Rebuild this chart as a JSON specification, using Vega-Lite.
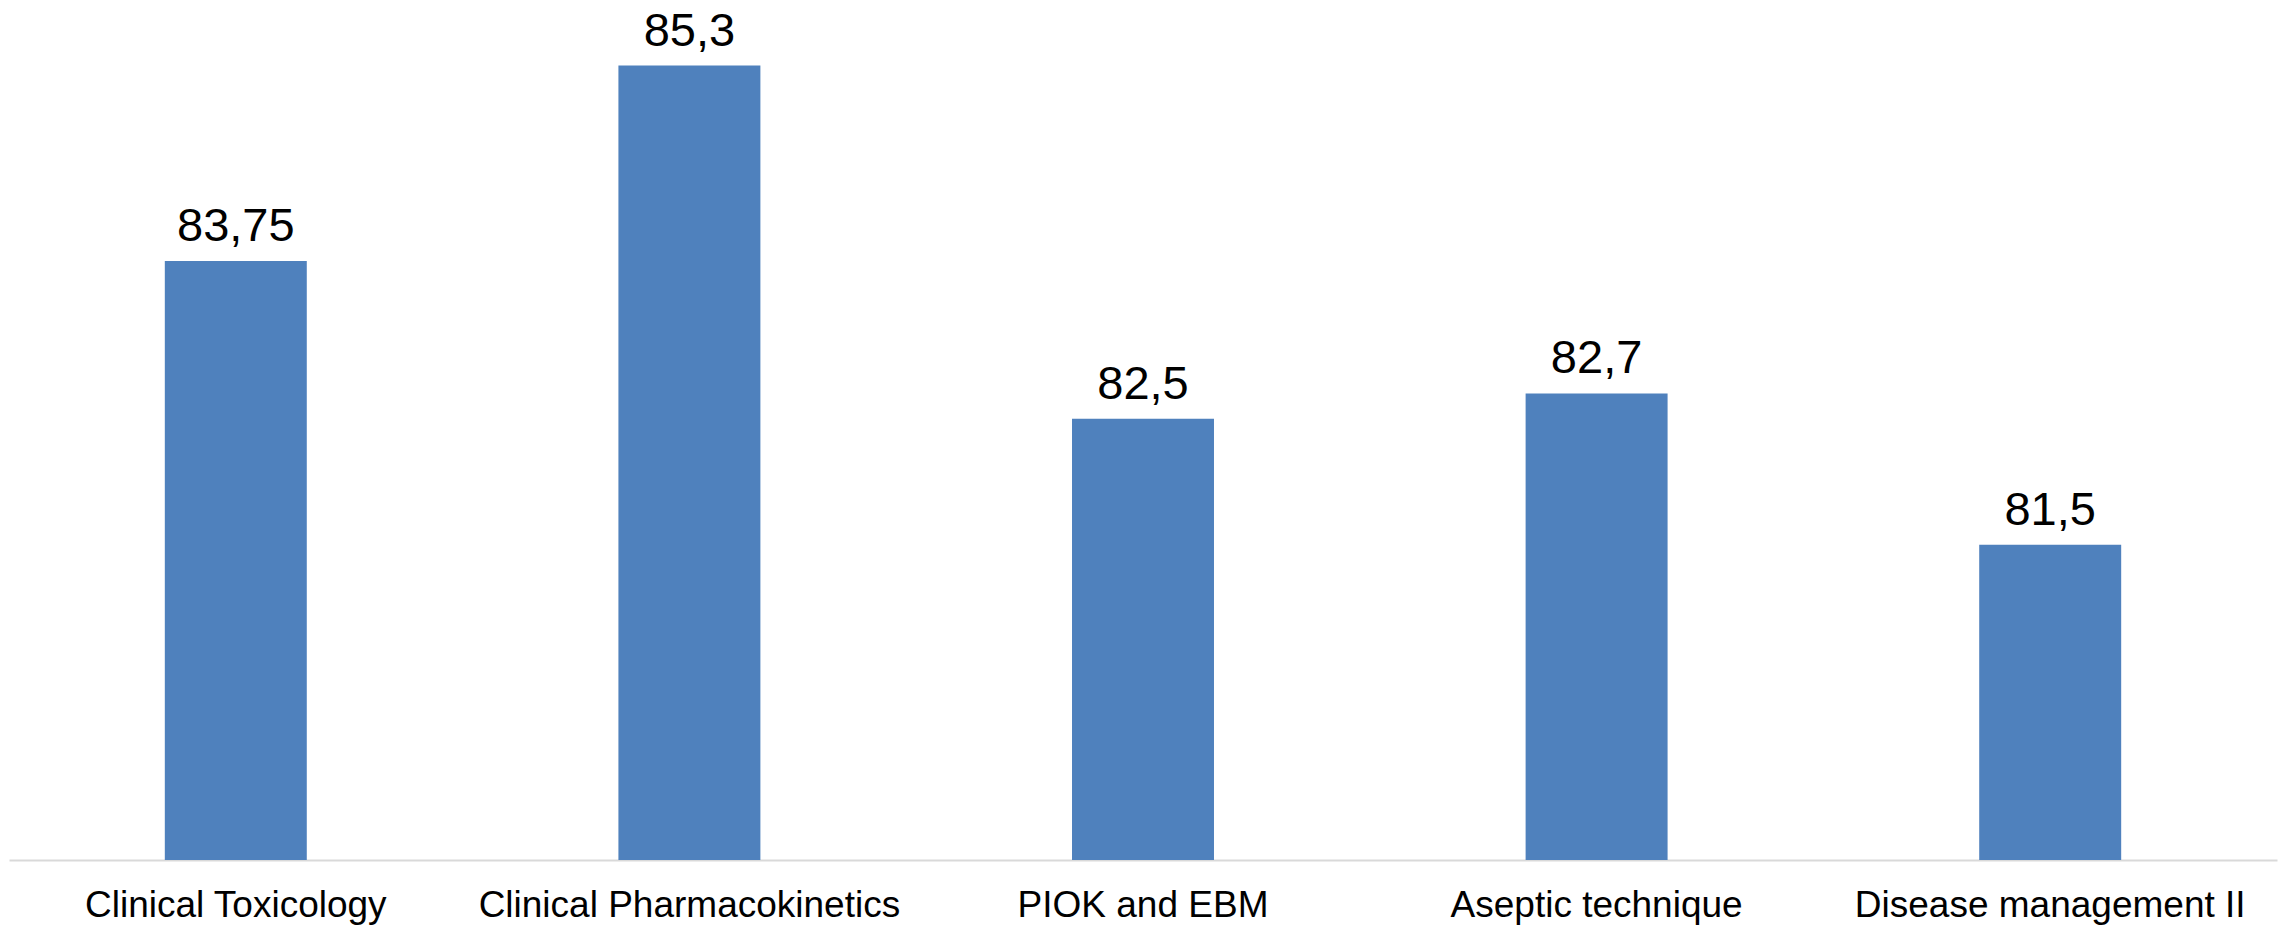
{
  "$schema": "https://vega.github.io/schema/vega-lite/v6.json",
  "autosize": {"type": "none"},
  "padding": {"left": 9, "top": 0, "right": 8, "bottom": 67},
  "width": 2268,
  "height": 860,
  "background": "white",
  "config": {"view": {"stroke": null}, "font": "Liberation Sans"},
  "data": {"values": [
    {"course": "Clinical Toxicology", "score": 83.75, "label": "83,75"},
    {"course": "Clinical Pharmacokinetics", "score": 85.3, "label": "85,3"},
    {"course": "PIOK and EBM", "score": 82.5, "label": "82,5"},
    {"course": "Aseptic technique", "score": 82.7, "label": "82,7"},
    {"course": "Disease management II", "score": 81.5, "label": "81,5"}
  ]},
  "encoding": {
    "x": {"field": "course", "type": "nominal", "sort": null,
      "scale": {"paddingInner": 0.687, "paddingOuter": 0.3435},
      "axis": {"title": null, "labelAngle": 0, "ticks": false, "labelFontSize": 37, "labelColor": "#000000", "labelFont": "Liberation Sans", "labelBaseline": "alphabetic", "labelPadding": 56, "domainColor": "#D9D9D9", "domainWidth": 2, "grid": false, "labelLimit": 0}},
    "y": {"field": "score", "type": "quantitative",
      "scale": {"domain": [79, 85.82], "zero": false, "nice": false, "clamp": true},
      "axis": null}
  },
  "layer": [
    {"mark": {"type": "bar", "color": "#4F81BD"}, "encoding": {"y2": {"datum": 79}}},
    {"mark": {"type": "text", "baseline": "alphabetic", "dy": -20, "fontSize": 47, "color": "#000000", "font": "Liberation Sans"},
     "encoding": {"text": {"field": "label"}}}
  ]
}
